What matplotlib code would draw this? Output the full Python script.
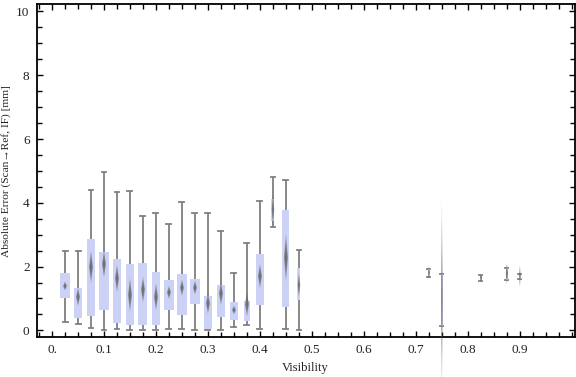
import matplotlib
matplotlib.use("Agg")
import matplotlib.pyplot as plt
from matplotlib.patches import Rectangle, Polygon
from matplotlib.ticker import MultipleLocator, FixedLocator

# ---- data ----
positions = [0.025, 0.05, 0.075, 0.1, 0.125, 0.15, 0.175, 0.2, 0.225, 0.25,
             0.275, 0.3, 0.325, 0.35, 0.375, 0.4, 0.425, 0.45, 0.475,
             0.725, 0.75, 0.825, 0.875, 0.9]
whisker_low = [0.25, 0.20, 0.06, 0.01, 0.03, 0.00, 0.00, 0.00, 0.03, 0.03,
               0.00, 0.00, 0.00, 0.09, 0.16, 0.03, 3.23, 0.03, 0.00,
               1.68, 0.14, 1.55, 1.58, 1.60]
q1 = [1.02, 0.40, 0.46, 0.65, 0.22, 0.18, 0.18, 0.18, 0.65, 0.49,
      0.84, 0.04, 0.43, 0.33, 0.29, 0.79, 3.44, 0.72, 0.95,
      1.70, 0.14, 1.58, 1.58, 1.62]
median = [1.39, 1.05, 1.99, 2.08, 1.63, 1.11, 1.28, 1.05, 1.19, 1.34,
          1.34, 0.85, 1.16, 0.64, 0.82, 1.70, 3.79, 2.28, 1.42,
          1.81, 1.00, 1.62, 1.78, 1.70]
q3 = [1.80, 1.33, 2.86, 2.45, 2.23, 2.08, 2.11, 1.83, 1.58, 1.77,
      1.61, 1.08, 1.42, 0.89, 0.92, 2.39, 4.12, 3.77, 1.96,
      1.92, 1.78, 1.65, 1.97, 1.75]
whisker_high = [2.49, 2.49, 4.39, 4.98, 4.33, 4.36, 3.60, 3.68, 3.35, 4.04,
                3.68, 3.67, 3.13, 1.81, 2.73, 4.07, 4.81, 4.73, 2.52,
                1.93, 1.78, 1.73, 1.97, 1.77]
median_ci = [0.14, 0.29, 0.52, 0.44, 0.44, 0.54, 0.41, 0.44, 0.21, 0.26,
             0.22, 0.34, 0.38, 0.14, 0.39, 0.39, 0.55, 0.76, 0.39,
             0.22, 3.20, 0.10, 0.35, 0.37]
box_widths = [0.0192, 0.0140, 0.0140, 0.0179, 0.0167, 0.0154, 0.0173, 0.0148,
              0.0192, 0.0206, 0.0192, 0.0154, 0.0154, 0.0154, 0.0115, 0.0167,
              0.0058, 0.0135, 0.0058, 0.0038, 0.0029, 0.0019, 0.0048, 0.0029]

x_ticks = [0.0, 0.1, 0.2, 0.3, 0.4, 0.5, 0.6, 0.7, 0.8, 0.9]
x_tick_labels = ["0.", "0.1", "0.2", "0.3", "0.4", "0.5", "0.6", "0.7", "0.8", "0.9"]
y_ticks = [0, 2, 4, 6, 8, 10]

# ---- style ----
BOX_COLOR = "#cbd2f5"
WHISK_COLOR = "#7f7f7f"
DIAMOND_COLOR = "#666666"
FONT = ["Liberation Serif", "DejaVu Serif"]
TEXT_COLOR = "#222222"

fig = plt.figure(figsize=(5.76, 3.77), dpi=100)
ax = fig.add_axes([0.0634, 0.106, 0.9347, 0.883])
ax.set_xlim(-0.0298, 1.0058)
ax.set_ylim(-0.21, 10.23)

cap_full = 0.0096
for x, wl, a, m, b, wh, ci, w in zip(positions, whisker_low, q1, median, q3,
                                      whisker_high, median_ci, box_widths):
    cap = min(cap_full, max(w, 0.006))
    ax.plot([x, x], [wl, wh], color=WHISK_COLOR, lw=1.3, zorder=2,
            solid_capstyle="butt")
    ax.plot([x - cap / 2, x + cap / 2], [wl, wl], color=WHISK_COLOR, lw=1.3, zorder=2)
    ax.plot([x - cap / 2, x + cap / 2], [wh, wh], color=WHISK_COLOR, lw=1.3, zorder=2)
    ax.add_patch(Rectangle((x - w / 2, a), w, b - a, facecolor=BOX_COLOR,
                           edgecolor="none", zorder=3))
    hw = min(w * 0.45, 0.0040)
    for s, al in [(1.0, 0.4), (0.8, 0.5), (0.55, 0.65)]:
        d = Polygon([(x, m + ci * s), (x + hw * s, m), (x, m - ci * s), (x - hw * s, m)],
                    closed=True, facecolor=DIAMOND_COLOR, edgecolor="none",
                    alpha=al, zorder=4, clip_on=False)
        ax.add_patch(d)

for sp in ax.spines.values():
    sp.set_linewidth(1.3)
    sp.set_color("black")

ax.xaxis.set_major_locator(FixedLocator(x_ticks))
ax.set_xticklabels(x_tick_labels)
ax.xaxis.set_minor_locator(MultipleLocator(0.025))
ax.yaxis.set_major_locator(FixedLocator(y_ticks))
ax.yaxis.set_minor_locator(MultipleLocator(0.5))

ax.tick_params(which="both", direction="in", top=True, right=True,
               width=1.0, color="black")
ax.tick_params(which="major", length=4.5, pad=5, labelsize=9.5, labelcolor=TEXT_COLOR)
ax.tick_params(which="minor", length=3.5)
for lab in ax.get_xticklabels() + ax.get_yticklabels():
    lab.set_family(FONT)

ax.set_xlabel("Visibility", family=FONT, fontsize=9, color=TEXT_COLOR, labelpad=4)
ax.set_ylabel("Absolute Error (Scan\u2192Ref, IF) [mm]", family=FONT, fontsize=8.2,
              color=TEXT_COLOR, labelpad=4)

fig.savefig("out.png", dpi=100)
